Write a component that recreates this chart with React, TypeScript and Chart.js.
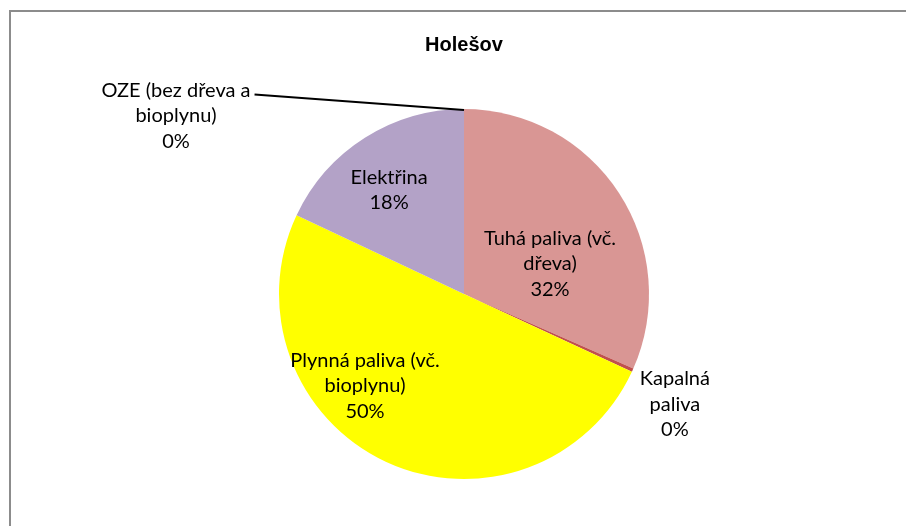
import React, { useEffect, useRef } from "react";
import { Chart, registerables } from "chart.js";

Chart.register(...registerables);

// ---- data ----
const chartTitle = "Holešov";
const categories: string[][] = [
  ["Tuhá paliva (vč.", "dřeva)"],
  ["Kapalná", "paliva"],
  ["Plynná paliva (vč.", "bioplynu)"],
  ["Elektřina"],
  ["OZE (bez dřeva a", "bioplynu)"],
];
const shares: number[] = [31.6, 0.3, 50.1, 18.0, 0.0];
const sliceColors: string[] = ["#D99694", "#C0504D", "#FFFF00", "#B3A2C7", "#93CDDD"];

// ---- label layout (relative to pie centre, in units of the radius) ----
const labelOffsets: [number, number][] = [
  [0.465, -0.162],
  [1.14, 0.595],
  [-0.535, 0.497],
  [-0.405, -0.562],
  [-1.557, -0.962],
];
const leaderLines: boolean[] = [false, false, false, false, true];

const LABEL_FONT = '20px Lato, "Noto Sans", sans-serif';
const LINE_H = 25.5;

const framePlugin = {
  id: "frame",
  beforeDraw(chart: any) {
    const ctx = chart.ctx;
    ctx.save();
    ctx.fillStyle = "#ffffff";
    ctx.fillRect(0, 0, chart.width, chart.height);
    ctx.strokeStyle = "#8c8c8c";
    ctx.lineWidth = 2;
    ctx.strokeRect(10, 11, chart.width + 20, chart.height + 20);
    ctx.restore();
  },
};

const labelPlugin = {
  id: "sliceLabels",
  afterDatasetsDraw(chart: any) {
    const ctx = chart.ctx;
    const meta = chart.getDatasetMeta(0);
    const values: number[] = chart.data.datasets[0].data;
    const total = values.reduce((a, b) => a + b, 0);
    ctx.save();
    ctx.font = LABEL_FONT;
    ctx.fillStyle = "#000000";
    ctx.textAlign = "center";
    ctx.textBaseline = "middle";
    meta.data.forEach((arc: any, i: number) => {
      const p = arc.getProps(["x", "y", "outerRadius", "startAngle"], true);
      const [ox, oy] = labelOffsets[i];
      const lx = p.x + ox * p.outerRadius;
      const ly = p.y + oy * p.outerRadius;
      const pct = Math.round((values[i] / total) * 100) + "%";
      const lines = [...categories[i], pct];
      const y0 = ly - ((lines.length - 1) * LINE_H) / 2;
      lines.forEach((t, k) => ctx.fillText(t, lx, y0 + k * LINE_H));
      if (leaderLines[i]) {
        const w = ctx.measureText(lines[0]).width;
        const sx = lx + w / 2 + 4;
        const sy = y0 + 4;
        const ex = p.x + Math.cos(p.startAngle) * (p.outerRadius - 1);
        const ey = p.y + Math.sin(p.startAngle) * (p.outerRadius - 1);
        ctx.strokeStyle = "#000000";
        ctx.lineWidth = 2;
        ctx.beginPath();
        ctx.moveTo(sx, sy);
        ctx.lineTo(ex, ey);
        ctx.stroke();
      }
    });
    ctx.restore();
  },
};

export default function App() {
  const ref = useRef<HTMLCanvasElement | null>(null);
  useEffect(() => {
    if (!ref.current) return;
    const chart = new Chart(ref.current, {
      type: "pie",
      data: {
        labels: categories.map((c) => c.join(" ")),
        datasets: [
          {
            data: shares,
            backgroundColor: sliceColors,
            borderWidth: 0,
          },
        ],
      },
      options: {
        responsive: false,
        animation: false,
        devicePixelRatio: 1,
        layout: { padding: { left: 279, right: 257, top: 33, bottom: 47 } },
        plugins: {
          legend: { display: false },
          tooltip: { enabled: false },
          title: {
            display: true,
            text: chartTitle,
            color: "#000000",
            font: { family: '"Liberation Sans", Arial, sans-serif', size: 20, weight: "bold", lineHeight: 1.2 },
            padding: { top: 0, bottom: 52 },
          },
        },
      } as any,
      plugins: [framePlugin, labelPlugin],
    });
    return () => chart.destroy();
  }, []);
  return (
    <div style={{ position: "absolute", left: 0, top: 0, width: 906, height: 526 }}>
      <canvas ref={ref} width={906} height={526} style={{ display: "block" }} />
    </div>
  );
}
